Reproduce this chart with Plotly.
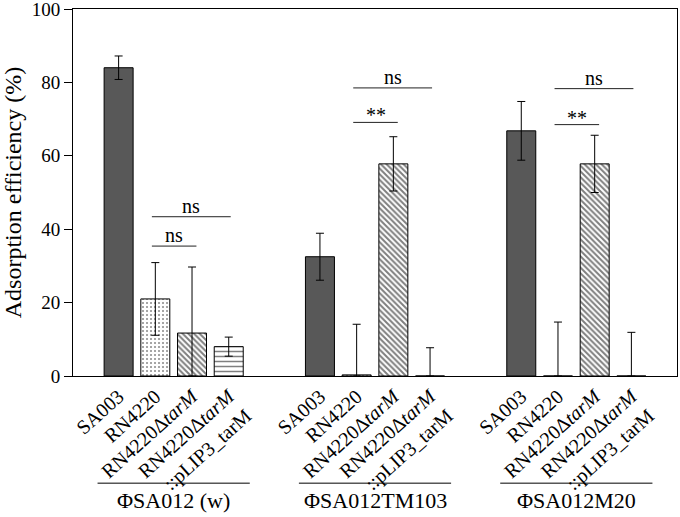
import plotly.graph_objects as go

# ---- data ----
groups = ["ΦSA012 (w)", "ΦSA012TM103", "ΦSA012M20"]
strains = ["SA003", "RN4220", "RN4220Δ<i>tarM</i>", "RN4220Δ<i>tarM</i><br>::pLIP3_tarM"]

sa003 = [84.0, 32.5, 66.8]
rn4220 = [21.0, 0.3, 0.0]
dtarm = [11.7, 57.8, 57.8]
plip3 = [8.0, 0.0, 0.0]

sa003_err = [3.2, 6.4, 8.0]
rn4220_err = [9.9, 13.8, 14.7]
dtarm_err = [18.0, 7.4, 7.8]
plip3_err = [2.6, 7.7, 11.9]

# significance: (group index, bar a, bar b, label, line level)
sig_marks = [
    (0, 1, 2, "ns", 35.4),
    (0, 1, 3, "ns", 43.4),
    (1, 1, 2, "**", 69.1),
    (1, 1, 3, "ns", 78.5),
    (2, 1, 2, "**", 68.5),
    (2, 1, 3, "ns", 78.3),
]

y_ticks = [0, 20, 40, 60, 80, 100]

# ---- layout helpers ----
FONT = "Liberation Serif, Times New Roman, serif"
step = 0.1823
bar_w = 0.144


def xpos(g, k):
    return g + 0.5 + (k - 1.5) * step


series = [
    (sa003, sa003_err, dict(color="#585858", pattern=dict(shape=""))),
    (rn4220, rn4220_err, dict(color="white", pattern=dict(shape=".", fgcolor="#111", bgcolor="white", size=4, solidity=0.2))),
    (dtarm, dtarm_err, dict(color="white", pattern=dict(shape="\\", fgcolor="black", bgcolor="white", size=4, solidity=0.5))),
    (plip3, plip3_err, dict(color="white", pattern=dict(shape="-", fgcolor="black", bgcolor="white", size=5, solidity=0.3))),
]

fig = go.Figure()
for k, (vals, errs, style) in enumerate(series):
    fig.add_trace(go.Bar(
        x=[xpos(g, k) for g in range(len(groups))],
        y=vals,
        width=bar_w,
        marker=dict(color=style["color"], pattern=style["pattern"],
                    line=dict(color="black", width=1)),
        error_y=dict(type="data", array=errs,
                     arrayminus=[min(e, v) for e, v in zip(errs, vals)],
                     color="black", thickness=1, width=4),
        showlegend=False,
        hoverinfo="skip",
    ))

tickvals = [xpos(g, k) for g in range(len(groups)) for k in range(len(strains))]
ticktext = [s for g in range(len(groups)) for s in strains]

shapes = []
annotations = []
# group separator ticks
for g in range(1, len(groups)):
    shapes.append(dict(type="line", xref="x", yref="y", x0=g, x1=g,
                       ysizemode="pixel", yanchor=0, y0=0, y1=-5,
                       line=dict(color="black", width=1)))
# group labels with lines
for g, name in enumerate(groups):
    c = g + 0.5
    shapes.append(dict(type="line", xref="x", yref="paper",
                       x0=c - 0.378, x1=c + 0.378, y0=-0.292, y1=-0.292,
                       line=dict(color="black", width=1)))
    annotations.append(dict(x=c, y=-0.338, xref="x", yref="paper",
                            text=name, showarrow=False,
                            font=dict(family=FONT, size=22, color="black"),
                            xanchor="center", yanchor="middle"))
# significance bars
for g, a, b, lab, lvl in sig_marks:
    x0 = xpos(g, a) - 0.017
    x1 = xpos(g, b) + (0.022 if b == 2 else 0.01)
    shapes.append(dict(type="line", xref="x", yref="y", x0=x0, x1=x1,
                       y0=lvl, y1=lvl, line=dict(color="#222", width=1)))
    annotations.append(dict(x=(x0 + x1) / 2, y=lvl, xref="x", yref="y",
                            text=lab, showarrow=False, yanchor="bottom",
                            yshift=-2 if lab == "ns" else -6,
                            font=dict(family=FONT, size=20, color="black")))

fig.update_layout(
    width=680, height=517,
    margin=dict(l=73, r=3, t=9, b=141, autoexpand=False),
    paper_bgcolor="white", plot_bgcolor="white",
    barmode="overlay",
    shapes=shapes, annotations=annotations,
    font=dict(family=FONT, color="black"),
)
fig.update_xaxes(
    range=[0, 3], tickmode="array", tickvals=tickvals, ticktext=ticktext,
    tickangle=-42, ticks="", tickfont=dict(family=FONT, size=20, color="black"),
    showline=True, linecolor="black", linewidth=1, mirror=True,
    showgrid=False, zeroline=False, automargin=False,
)
fig.update_yaxes(
    range=[0, 100], tickmode="array", tickvals=y_ticks,
    ticks="outside", ticklen=8, tickcolor="black",
    tickfont=dict(family=FONT, size=19, color="black"),
    ticklabeloverflow="allow",
    title=dict(text="Adsorption efficiency (%)", standoff=6,
               font=dict(family=FONT, size=24, color="black")),
    showline=True, linecolor="black", linewidth=1, mirror=True,
    showgrid=False, zeroline=False, automargin=False,
)

fig.write_html(
    "out.html",
    config={"displayModeBar": False},
    post_script="document.body.style.margin='0';document.body.style.overflow='hidden';",
)
